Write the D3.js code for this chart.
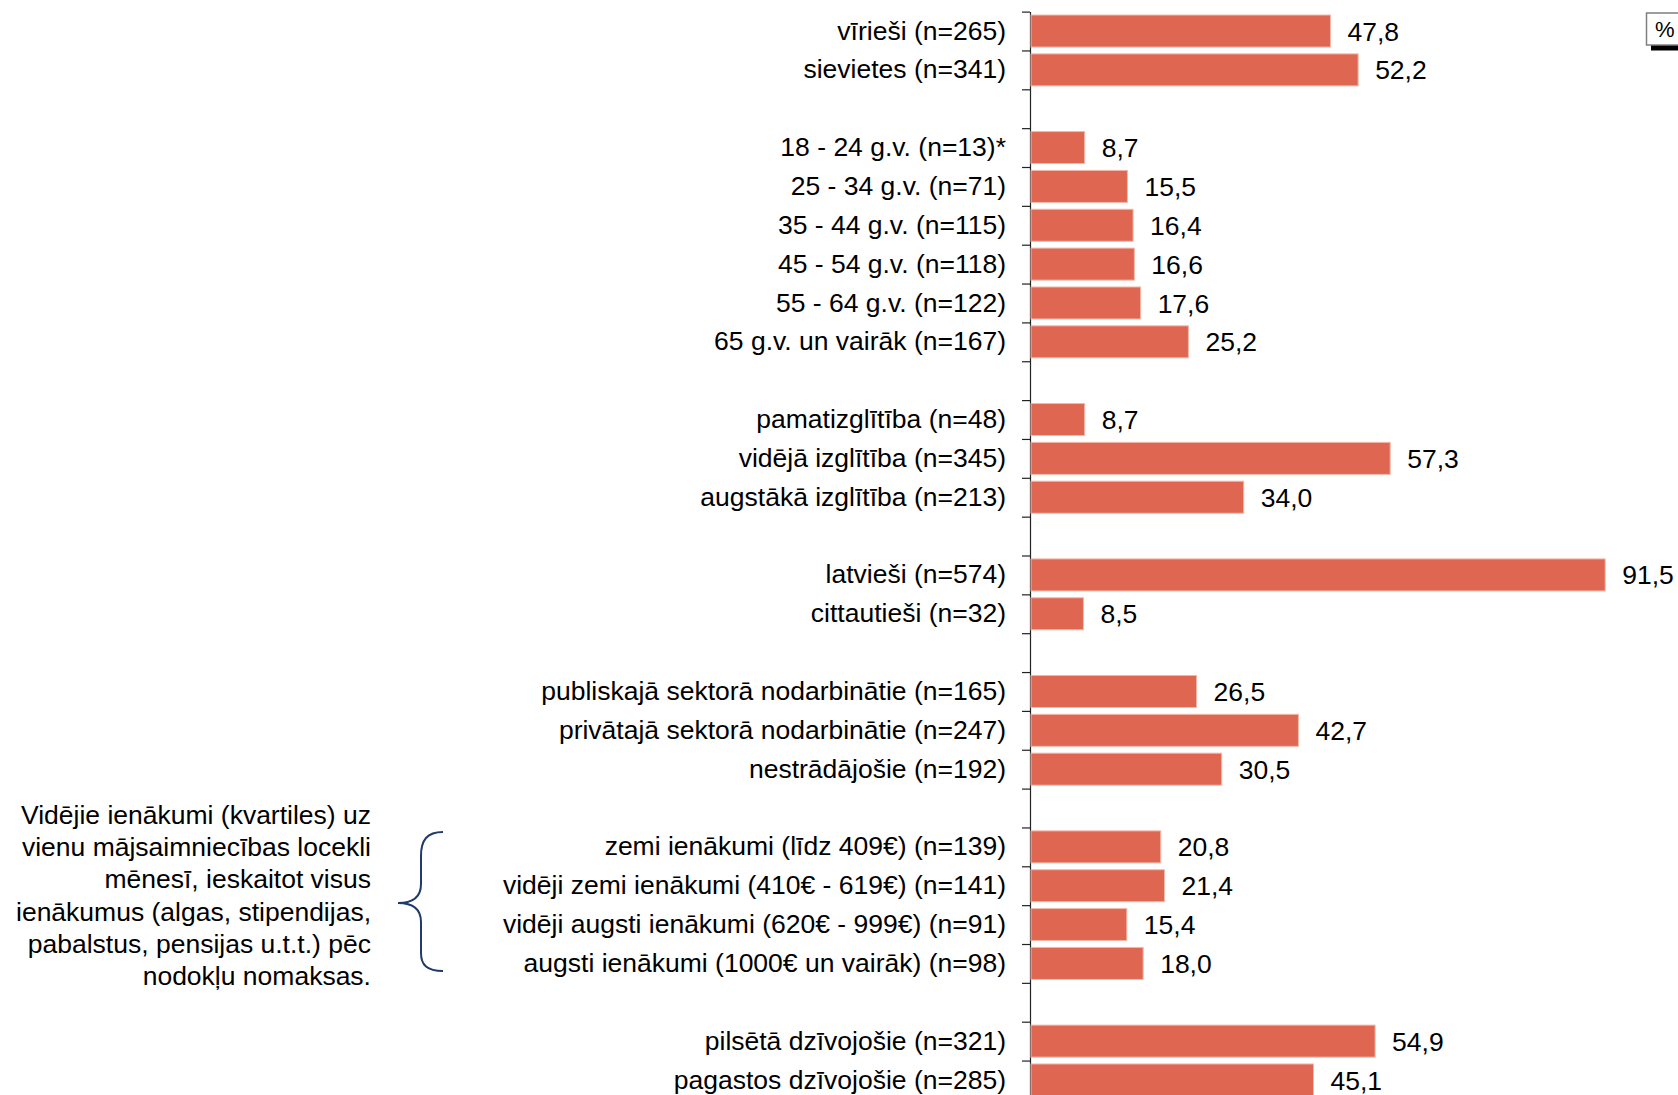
<!DOCTYPE html>
<html>
<head>
<meta charset="utf-8">
<script src="https://cdn.jsdelivr.net/npm/d3@7/dist/d3.min.js"></script>
<style>
  html, body { margin: 0; padding: 0; background: #fff; }
  svg { display: block; }
  text { font-family: "Liberation Sans", Arial, sans-serif; fill: #000; }
</style>
</head>
<body>
<svg id="chart" width="1678" height="1095"></svg>
<script>
// ---- data ----
const categories = [
  "vīrieši (n=265)", "sievietes (n=341)",
  "18 - 24 g.v. (n=13)*", "25 - 34 g.v. (n=71)", "35 - 44 g.v. (n=115)",
  "45 - 54 g.v. (n=118)", "55 - 64 g.v. (n=122)", "65 g.v. un vairāk (n=167)",
  "pamatizglītība (n=48)", "vidējā izglītība (n=345)", "augstākā izglītība (n=213)",
  "latvieši (n=574)", "cittautieši (n=32)",
  "publiskajā sektorā nodarbinātie (n=165)", "privātajā sektorā nodarbinātie (n=247)", "nestrādājošie (n=192)",
  "zemi ienākumi (līdz 409€) (n=139)", "vidēji zemi ienākumi (410€ - 619€) (n=141)",
  "vidēji augsti ienākumi (620€ - 999€) (n=91)", "augsti ienākumi (1000€ un vairāk) (n=98)",
  "pilsētā dzīvojošie (n=321)", "pagastos dzīvojošie (n=285)"
];
const values = [
  47.8, 52.2,
  8.7, 15.5, 16.4, 16.6, 17.6, 25.2,
  8.7, 57.3, 34.0,
  91.5, 8.5,
  26.5, 42.7, 30.5,
  20.8, 21.4, 15.4, 18.0,
  54.9, 45.1
];
const groupSizes = [2, 6, 3, 2, 3, 4, 2];
const incomeNote = [
  "Vidējie ienākumi (kvartiles) uz",
  "vienu mājsaimniecības locekli",
  "mēnesī, ieskaitot visus",
  "ienākumus (algas, stipendijas,",
  "pabalstus, pensijas u.t.t.) pēc",
  "nodokļu nomaksas."
];
const unitLabel = "%";

// ---- build slots (categories plus blank spacer slots between groups) ----
const slots = [];
let ci = 0;
groupSizes.forEach((n, g) => {
  if (g > 0) slots.push({ id: "gap" + g, label: null, value: null });
  for (let k = 0; k < n; k++) {
    slots.push({ id: "c" + ci, label: categories[ci], value: values[ci] });
    ci++;
  }
});

const svg = d3.select("#chart");
const axisX = 1030;
const step = 38.85;
const topY = 11.6;
const nSlots = slots.length;

const x = d3.scaleLinear().domain([0, 100]).range([axisX, axisX + 628.6]);
const y = d3.scaleBand()
  .domain(slots.map(d => d.id))
  .range([topY, topY + nSlots * step])
  .paddingInner(0.176)
  .paddingOuter(0.088);
const yEdge = d3.scaleLinear().domain([0, nSlots]).range([topY, topY + nSlots * step]);

// axis with ticks at slot boundaries
const axisG = svg.append("g")
  .attr("transform", `translate(${axisX},0)`)
  .call(d3.axisLeft(yEdge).tickValues(d3.range(0, nSlots + 1)).tickFormat("").tickSize(8).tickSizeOuter(0));
axisG.selectAll("path, line").attr("stroke", "#222").attr("stroke-width", 1.2);

const items = slots.filter(d => d.label !== null);

// bars
svg.append("g").selectAll("rect")
  .data(items)
  .join("rect")
  .attr("x", x(0) + 1)
  .attr("y", d => y(d.id))
  .attr("width", d => x(d.value) - x(0) - 1)
  .attr("height", y.bandwidth())
  .attr("fill", "#DF6751")
  .attr("stroke", "#f2b8aa")
  .attr("stroke-width", 1);

// category labels
svg.append("g").selectAll("text")
  .data(items)
  .join("text")
  .attr("x", 1006)
  .attr("y", d => y(d.id) + y.bandwidth() / 2 - 1)
  .attr("dy", "0.36em")
  .attr("text-anchor", "end")
  .style("font-size", "26.5px")
  .text(d => d.label);

// value labels
svg.append("g").selectAll("text")
  .data(items)
  .join("text")
  .attr("x", d => x(d.value) + 17)
  .attr("y", d => y(d.id) + y.bandwidth() / 2)
  .attr("dy", "0.36em")
  .style("font-size", "26.5px")
  .text(d => d3.format(".1f")(d.value).replace(".", ","));

// income note
const noteTop = 814.5;
svg.append("g").selectAll("text")
  .data(incomeNote)
  .join("text")
  .attr("x", 371)
  .attr("y", (d, i) => noteTop + i * 32.2)
  .attr("dy", "0.36em")
  .attr("text-anchor", "end")
  .style("font-size", "26.5px")
  .text(d => d);

// brace
svg.append("path")
  .attr("d", "M443,832 C427,832 421,840 421,856 L421,884 C421,898 412,903 398,903 C412,903 421,908 421,922 L421,953 C421,965 427,971 443,971")
  .attr("fill", "none")
  .attr("stroke", "#1F3A6B")
  .attr("stroke-width", 2);

// % box
svg.append("rect").attr("x", 1651).attr("y", 44.5).attr("width", 40).attr("height", 6).attr("fill", "#000");
svg.append("rect").attr("x", 1646.5).attr("y", 13).attr("width", 40).attr("height", 32)
  .attr("fill", "#fff").attr("stroke", "#7f7f7f").attr("stroke-width", 1.5);
svg.append("text").attr("x", 1655).attr("y", 29).attr("dy", "0.36em")
  .style("font-size", "22px").text(unitLabel);
</script>
</body>
</html>
